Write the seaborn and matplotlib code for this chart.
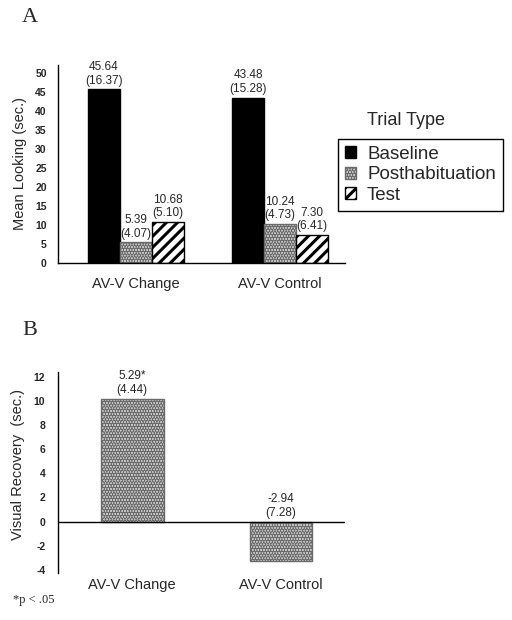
import matplotlib
matplotlib.use("Agg")
import numpy as np
import pandas as pd
import seaborn as sns
import matplotlib.pyplot as plt
from matplotlib.patches import Patch

# --- data ---
conditions = ["AV-V Change", "AV-V Control"]
trial_types = ["Baseline", "Posthabituation", "Test"]

baseline_means = [45.64, 43.48]
baseline_sds = [16.37, 15.28]
posthab_means = [5.39, 10.24]
posthab_sds = [4.07, 4.73]
test_means = [10.68, 7.30]
test_sds = [5.10, 6.41]

# panel B: bars as drawn in the picture, labels as printed
recovery_heights = [10.2, -3.3]
recovery_labels = ["5.29*", "-2.94"]
recovery_sds = [4.44, 7.28]

sns.set_theme(style="white")
plt.rcParams["font.family"] = ["Liberation Sans", "DejaVu Sans"]
plt.rcParams["hatch.linewidth"] = 2.2
plt.rcParams["axes.unicode_minus"] = False

STIPPLE = "#d2d2d2"
DOTS = "#6a6a6a"

fig = plt.figure(figsize=(5.12, 6.2), dpi=100)
axA = fig.add_axes([0.113, 0.576, 0.561, 0.319])
axB = fig.add_axes([0.113, 0.076, 0.561, 0.324])

# --- Panel A: grouped bars ---
df_a = pd.DataFrame({
    "condition": conditions * 3,
    "trial": np.repeat(trial_types, 2),
    "value": baseline_means + posthab_means + test_means,
})
sns.barplot(data=df_a, x="condition", y="value", hue="trial",
            order=conditions, hue_order=trial_types,
            palette=["black", STIPPLE, "white"], saturation=1,
            width=0.667, gap=0, edgecolor="black", linewidth=1,
            errorbar=None, legend=False, ax=axA)

hatches = [None, "......", "///"]
all_sds = [baseline_sds, posthab_sds, test_sds]
all_means = [baseline_means, posthab_means, test_means]
for cont, h, m, s in zip(axA.containers, hatches, all_means, all_sds):
    for bar in cont:
        if h:
            bar.set_hatch(h)
        if h == "......":
            bar.set_edgecolor(DOTS)
    axA.bar_label(cont, labels=[f"{a:.2f}\n({b:.2f})" for a, b in zip(m, s)],
                  padding=2, fontsize=8.5, linespacing=1.15)

axA.set_xlim(-0.54, 1.45)
axA.set_ylim(0, 52)
axA.set_yticks(range(0, 51, 5))
axA.set_xlabel("")
axA.set_ylabel("Mean Looking (sec.)", fontsize=10.5, labelpad=6)
axA.tick_params(axis="y", length=0, pad=8, labelsize=7.5)
axA.tick_params(axis="x", length=0, pad=10, labelsize=10.5)
for lab in axA.get_yticklabels():
    lab.set_fontweight("bold")
for side in ["top", "right"]:
    axA.spines[side].set_visible(False)
for side in ["left", "bottom"]:
    axA.spines[side].set_color("black")
    axA.spines[side].set_linewidth(1)

# legend
handles = [
    Patch(facecolor="black", edgecolor="black", label="Baseline"),
    Patch(facecolor=STIPPLE, edgecolor=DOTS, hatch="......", label="Posthabituation"),
    Patch(facecolor="white", edgecolor="black", hatch="///", label="Test"),
]
fig.text(367 / 512, 1 - 120 / 620, "Trial Type", fontsize=13, va="center")
leg = fig.legend(handles=handles, loc="upper left",
                 bbox_to_anchor=(338 / 512, 1 - 139 / 620), borderaxespad=0,
                 fontsize=13.5, frameon=True, fancybox=False, framealpha=1,
                 edgecolor="black", handlelength=0.6, handleheight=0.6,
                 handletextpad=0.6, labelspacing=0.2, borderpad=0.35)
leg.get_frame().set_linewidth(1)

# --- Panel B: visual recovery ---
df_b = pd.DataFrame({"condition": conditions, "value": recovery_heights})
sns.barplot(data=df_b, x="condition", y="value", order=conditions,
            color=STIPPLE, saturation=1, width=0.42,
            edgecolor=DOTS, linewidth=1, errorbar=None, ax=axB)
for bar in axB.patches:
    bar.set_hatch("......")
axB.axhline(0, color="black", lw=1)
for i, (h, lab, s) in enumerate(zip(recovery_heights, recovery_labels, recovery_sds)):
    axB.annotate(f"{lab}\n({s:.2f})", (i, max(h, 0)), xytext=(0, 2),
                 textcoords="offset points", ha="center", va="bottom",
                 fontsize=8.5, linespacing=1.15)

axB.set_xlim(-0.5, 1.43)
axB.set_ylim(-4.25, 12.4)
axB.set_yticks(range(-4, 13, 2))
axB.set_xlabel("")
axB.set_ylabel("Visual Recovery  (sec.)", fontsize=10.5)
axB.yaxis.set_label_coords(-0.115, 0.54)
axB.tick_params(axis="y", length=0, pad=9, labelsize=7.5)
axB.tick_params(axis="x", length=0, pad=4, labelsize=10.5)
for lab in axB.get_yticklabels():
    lab.set_fontweight("bold")
for side in ["top", "right", "bottom"]:
    axB.spines[side].set_visible(False)
axB.spines["left"].set_color("black")
axB.spines["left"].set_linewidth(1)

# panel letters and footnote
fig.text(22 / 512, 1 - 17 / 620, "A", family="Liberation Serif", fontsize=16, va="center")
fig.text(22 / 512, 1 - 331 / 620, "B", family="Liberation Serif", fontsize=16, va="center")
fig.text(13 / 512, 1 - 600 / 620, "*p < .05", family="Liberation Serif", fontsize=9, va="center")

fig.savefig("out.png", dpi=100, facecolor="white")
